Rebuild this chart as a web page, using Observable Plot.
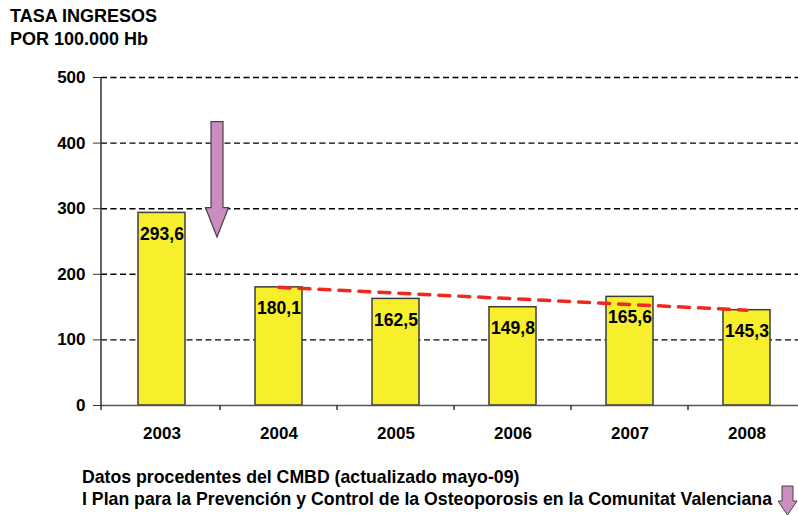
<!DOCTYPE html>
<html>
<head>
<meta charset="utf-8">
<script src="https://cdn.jsdelivr.net/npm/d3@7"></script>
<script src="https://cdn.jsdelivr.net/npm/@observablehq/plot@0.6"></script>
<style>
  html, body { margin: 0; padding: 0; background: #fff; }
  #wrap { position: relative; width: 798px; height: 515px; overflow: hidden; font-family: "Liberation Sans", Arial, sans-serif; }
  #title { position: absolute; left: 10px; top: 5px; font-weight: bold; font-size: 18px; line-height: 23px; color: #000; }
  #chart { position: absolute; left: 0; top: 0; }
  #caption { position: absolute; left: 82px; top: 466px; font-family: "Liberation Sans Narrow", "Liberation Sans", Arial, sans-serif; font-weight: bold; font-size: 17.7px; line-height: 22px; color: #000; white-space: nowrap; }
  #mini { position: absolute; left: 776px; top: 485px; }
</style>
</head>
<body>
<div id="wrap">
  <div id="chart"></div>
  <div id="title">TASA INGRESOS<br>POR 100.000 Hb</div>
  <div id="caption">Datos procedentes del CMBD (actualizado mayo-09)<br>I Plan para la Prevención y Control de la Osteoporosis en la Comunitat Valenciana</div>
  <svg id="mini" width="22" height="31"><polygon points="6,1 17,1 17,16 21,16 11.5,30 2,16 6,16" fill="#cc8cc0" stroke="#444" stroke-width="1"/></svg>
</div>
<script>
const years = ["2003", "2004", "2005", "2006", "2007", "2008"];
const values = [293.6, 180.1, 162.5, 149.8, 165.6, 145.3];
const labels = ["293,6", "180,1", "162,5", "149,8", "165,6", "145,3"];
const yTicks = [0, 100, 200, 300, 400, 500];
const gridTicks = [100, 200, 300, 400, 500];
const trendYears = ["2004", "2008"];
const trendValues = [180.1, 145.3];
// big annotation arrow (values on y scale): top, neck, tip
const arrowValues = [432, 301, 256];

const data = years.map((y, i) => ({year: y, value: values[i], label: labels[i]}));
const trend = trendYears.map((y, i) => ({year: y, value: trendValues[i]}));

const W = 798, H = 515, mL = 101, mR = -8, mT = 77, mB = 110;

const plot = Plot.plot({
  width: W, height: H,
  marginLeft: mL, marginRight: mR, marginTop: mT, marginBottom: mB,
  style: {fontFamily: "Liberation Sans, Arial, sans-serif", overflow: "visible", background: "transparent"},
  x: {domain: years, paddingInner: 0.6, paddingOuter: 0.3, label: null},
  y: {domain: [0, 500], label: null},
  marks: [
    Plot.gridY(gridTicks, {stroke: "#000", strokeOpacity: 1, strokeDasharray: "6,3.5", strokeWidth: 1.4}),
    Plot.barY(data, {x: "year", y: "value", fill: "#f7ee2c", stroke: "#3c3c3c", strokeWidth: 1.5}),
    Plot.ruleY([0], {stroke: "#555", strokeWidth: 1.5}),
    Plot.text(data, {x: "year", y: "value", text: "label", dy: 21, lineAnchor: "middle", fontWeight: "bold", fontSize: 17.5, fill: "#000"}),
    Plot.line(trend, {x: "year", y: "value", stroke: "#ee2a20", strokeWidth: 3.5, strokeDasharray: "11,9"}),
    Plot.axisY(yTicks, {tickSize: 8, tickPadding: 8, fontSize: 17, fontWeight: "bold", stroke: "#333", fill: "#000"}),
    Plot.axisX({tickSize: 0, tickPadding: 21, fontSize: 17, fontWeight: "bold", fill: "#000"})
  ]
});

// post-render: axis lines, category ticks, annotation arrow via plot scales
const sx = plot.scale("x"), sy = plot.scale("y");
const svg = d3.select(plot);
const y0 = sy.apply(0), yTop = sy.apply(500);
const stepPx = sx.step, bw = sx.bandwidth;
// vertical y axis line
svg.append("line").attr("x1", mL).attr("x2", mL).attr("y1", yTop).attr("y2", y0 + 5)
  .attr("stroke", "#333").attr("stroke-width", 1.5);
// category boundary ticks below axis
years.slice(0, -1).forEach(yr => {
  const cx = sx.apply(yr) + bw / 2 + stepPx / 2;
  svg.append("line").attr("x1", cx).attr("x2", cx).attr("y1", y0).attr("y2", y0 + 5)
    .attr("stroke", "#333").attr("stroke-width", 1.5);
});
// fat purple arrow between 2003 and 2004
const ac = (sx.apply("2003") + sx.apply("2004")) / 2 + bw / 2 - 3;
const aTop = sy.apply(arrowValues[0]), aNeck = sy.apply(arrowValues[1]), aTip = sy.apply(arrowValues[2]);
const sw = 6, hw = 11.5;
const pts = [[ac - sw, aTop], [ac + sw, aTop], [ac + sw, aNeck], [ac + hw, aNeck], [ac, aTip], [ac - hw, aNeck], [ac - sw, aNeck]];
svg.append("polygon").attr("points", pts.map(p => p.join(",")).join(" "))
  .attr("fill", "#cc8cc0").attr("stroke", "#444").attr("stroke-width", 1.2);

document.getElementById("chart").appendChild(plot);
</script>
</body>
</html>
